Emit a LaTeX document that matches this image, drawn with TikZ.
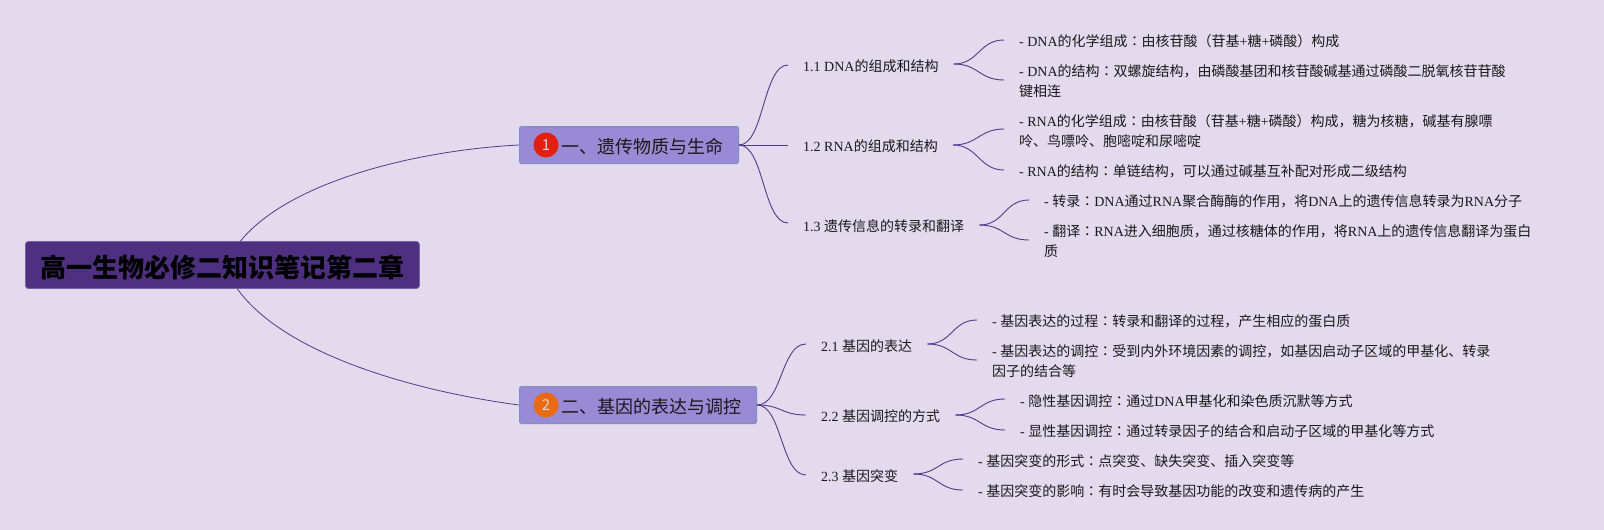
\documentclass[tikz,border=0pt]{standalone}
\usepackage{fontspec}
\setmainfont{Liberation Serif}
\newfontfamily\cjk{Noto Sans CJK SC}
\newfontfamily\cjktc{Noto Sans CJK TC}
\newcommand{\en}[1]{{\rmfamily #1}}
\newcommand{\cln}{{\cjktc ：}}
\definecolor{mmback}{RGB}{227,218,238}
\definecolor{mmroot}{RGB}{79,48,128}
\definecolor{mmrootline}{RGB}{118,98,170}
\definecolor{mmtopic}{RGB}{153,138,214}
\definecolor{mmtopicline}{RGB}{124,146,190}
\definecolor{mmline}{RGB}{78,60,140}
\definecolor{mmred}{RGB}{227,32,15}
\definecolor{mmorange}{RGB}{234,106,18}
\usetikzlibrary{arrows.meta,positioning}

\begin{document}
\begin{tikzpicture}[
  x=1pt,y=-1pt,
  every node/.style={font=\fontsize{14}{20}\selectfont\cjk,text=black!90},
  rootbox/.style={draw=mmrootline,fill=mmroot,rounded corners=3pt,line width=0.8pt,
                  inner xsep=15pt,minimum height=47pt,anchor=west,text height=26pt,text depth=2pt,
                  font=\fontsize{26}{30}\selectfont\cjk\bfseries,text=black},
  topicbox/.style={draw=mmtopicline,fill=mmtopic,rounded corners=1.5pt,line width=1pt,
                   inner xsep=15pt,minimum height=37pt,anchor=west,text height=18.5pt,text depth=1pt,
                   font=\fontsize{18}{22}\selectfont\cjk},
  badge/.style={circle,minimum size=25pt,inner sep=0pt,
                font=\fontsize{15}{15}\selectfont\cjk,text=white!85!black},
  subitem/.style={anchor=west,inner xsep=15pt,inner ysep=1pt},
  leafitem/.style={anchor=west,inner xsep=15pt,inner ysep=1pt,align=left},
  mainlink/.style={draw=mmline,line width=0.8pt},
  sublink/.style={draw=mmline,line width=0.9pt},
]
  \fill[mmback] (0,0) rectangle (1604,530);
  \useasboundingbox (0,0) rectangle (1604,530);

  % root and topics
  \node[rootbox] (root) at (25,265) {高一生物必修二知识笔记第二章};
  \node[topicbox] (heredity) at (519,145) {\hspace{27pt}一、遗传物质与生命};
  \node[topicbox] (express) at (519,405) {\hspace{27pt}二、基因的表达与调控};
  \node[badge,fill=mmred] (badgeone) at (546,145) {1};
  \node[badge,fill=mmorange] (badgetwo) at (546,405) {2};

  % first topic, sub items
  \node[subitem] (dna) at (788,66) {\en{1.1 DNA}的组成和结构};
  \node[subitem] (rna) at (788,146) {\en{1.2 RNA}的组成和结构};
  \node[subitem] (trans) at (788,226) {\en{1.3 }遗传信息的转录和翻译};

  % first topic, leaves
  \node[leafitem] (dnaa) at (1004,41) {\en{- DNA}的化学组成\cln 由核苷酸（苷基\en{+}糖\en{+}磷酸）构成};
  \node[leafitem] (dnab) at (1004,81)
    {\en{- DNA}的结构\cln 双螺旋结构，由磷酸基团和核苷酸碱基通过磷酸二脱氧核苷苷酸\\键相连};
  \node[leafitem] (rnaa) at (1004,131)
    {\en{- RNA}的化学组成\cln 由核苷酸（苷基\en{+}糖\en{+}磷酸）构成，糖为核糖，碱基有腺嘌\\呤、鸟嘌呤、胞嘧啶和尿嘧啶};
  \node[leafitem] (rnab) at (1004,171) {\en{- RNA}的结构\cln 单链结构，可以通过碱基互补配对形成二级结构};
  \node[leafitem] (transa) at (1029,201)
    {\en{- }转录\cln\en{DNA}通过\en{RNA}聚合酶酶的作用，将\en{DNA}上的遗传信息转录为\en{RNA}分子};
  \node[leafitem] (transb) at (1029,241)
    {\en{- }翻译\cln\en{RNA}进入细胞质，通过核糖体的作用，将\en{RNA}上的遗传信息翻译为蛋白\\质};

  % second topic, sub items
  \node[subitem] (genea) at (806,346) {\en{2.1 }基因的表达};
  \node[subitem] (geneb) at (806,416) {\en{2.2 }基因调控的方式};
  \node[subitem] (genec) at (806,476) {\en{2.3 }基因突变};

  % second topic, leaves
  \node[leafitem] (geneaa) at (977,321) {\en{- }基因表达的过程\cln 转录和翻译的过程，产生相应的蛋白质};
  \node[leafitem] (geneab) at (977,361)
    {\en{- }基因表达的调控\cln 受到内外环境因素的调控，如基因启动子区域的甲基化、转录\\因子的结合等};
  \node[leafitem] (geneba) at (1005,401) {\en{- }隐性基因调控\cln 通过\en{DNA}甲基化和染色质沉默等方式};
  \node[leafitem] (genebb) at (1005,431) {\en{- }显性基因调控\cln 通过转录因子的结合和启动子区域的甲基化等方式};
  \node[leafitem] (geneca) at (963,461) {\en{- }基因突变的形式\cln 点突变、缺失突变、插入突变等};
  \node[leafitem] (genecb) at (963,491) {\en{- }基因突变的影响\cln 有时会导致基因功能的改变和遗传病的产生};

  % root links
  \draw[mainlink] ([xshift=18pt]root.north) .. controls +(50,-61) and +(-99,5) .. (heredity.west);
  \draw[mainlink] ([xshift=15pt]root.south) .. controls +(48,67) and +(-99,-13) .. (express.west);

  % topic links
  \draw[sublink] (heredity.east) .. controls +(25,0) and +(-25,0) .. ([yshift=1pt]dna.west);
  \draw[sublink] (heredity.east) .. controls +(25,0) and +(-25,0) .. ([yshift=1pt]rna.west);
  \draw[sublink] (heredity.east) .. controls +(25,0) and +(-25,0) .. ([yshift=3pt]trans.west);
  \draw[sublink] (express.east) .. controls +(25,0) and +(-25,0) .. ([yshift=2pt]genea.west);
  \draw[sublink] (express.east) .. controls +(25,0) and +(-25,0) .. ([yshift=1pt]geneb.west);
  \draw[sublink] (express.east) .. controls +(25,0) and +(-25,0) .. ([yshift=1pt]genec.west);

  % leaf links
  \draw[sublink] ([yshift=2pt]dna.east) .. controls +(25,0) and +(-25,0) .. ([yshift=1pt]dnaa.west);
  \draw[sublink] ([yshift=2pt]dna.east) .. controls +(25,0) and +(-25,0) .. ([yshift=1pt]dnab.west);
  \draw[sublink] ([yshift=1pt]rna.east) .. controls +(25,0) and +(-25,0) .. ([yshift=2pt]rnaa.west);
  \draw[sublink] ([yshift=1pt]rna.east) .. controls +(25,0) and +(-25,0) .. ([yshift=1pt]rnab.west);
  \draw[sublink] ([yshift=1pt]trans.east) .. controls +(25,0) and +(-25,0) .. ([yshift=1pt]transa.west);
  \draw[sublink] ([yshift=1pt]trans.east) .. controls +(25,0) and +(-25,0) .. ([yshift=1pt]transb.west);
  \draw[sublink] ([yshift=2pt]genea.east) .. controls +(25,0) and +(-25,0) .. ([yshift=1pt]geneaa.west);
  \draw[sublink] ([yshift=2pt]genea.east) .. controls +(25,0) and +(-25,0) .. ([yshift=1pt]geneab.west);
  \draw[sublink] ([yshift=1pt]geneb.east) .. controls +(25,0) and +(-25,0) .. ([yshift=2pt]geneba.west);
  \draw[sublink] ([yshift=1pt]geneb.east) .. controls +(25,0) and +(-25,0) .. ([yshift=1pt]genebb.west);
  \draw[sublink] ([yshift=2pt]genec.east) .. controls +(25,0) and +(-25,0) .. ([yshift=2pt]geneca.west);
  \draw[sublink] ([yshift=2pt]genec.east) .. controls +(25,0) and +(-25,0) .. ([yshift=1pt]genecb.west);
\end{tikzpicture}
\end{document}
